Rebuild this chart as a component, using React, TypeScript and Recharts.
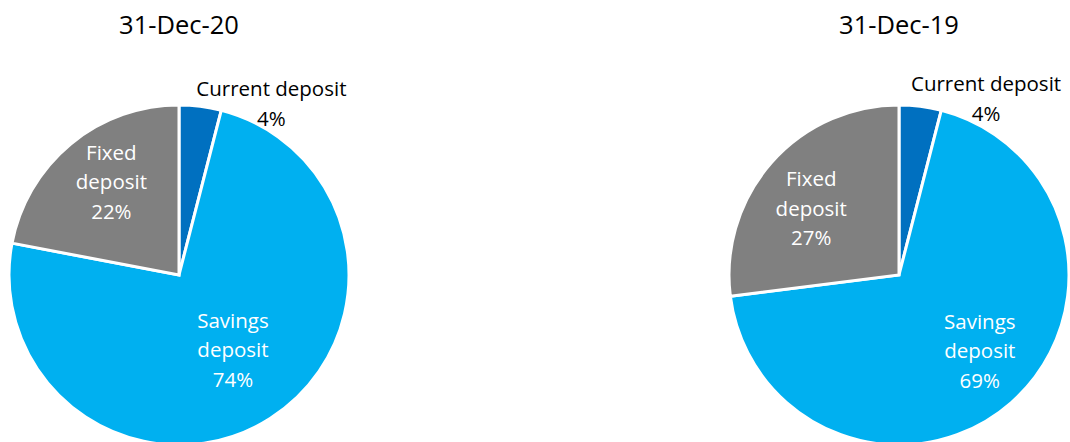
import { PieChart, Pie, Cell } from "recharts"

const categories = ["Current deposit", "Savings deposit", "Fixed deposit"]
const dec20Values = [4, 74, 22]
const dec19Values = [4, 69, 27]
const titles = ["31-Dec-20", "31-Dec-19"]

const colors = ["#0070C0", "#00B0F0", "#808080"]
const textColors = ["#000000", "#ffffff", "#ffffff"]
const FONT = "'Open Sans', sans-serif"
const RADIAN = Math.PI / 180

// label placement per slice: radius factor and angle shift from the slice middle
const layout20 = [
  { rf: 1.15, da: -21 },
  { rf: 0.54, da: 3.6 },
  { rf: 0.68, da: -3.8 },
]
const layout19 = [
  { rf: 1.16, da: -19 },
  { rf: 0.65, da: 5.6 },
  { rf: 0.65, da: 4 },
]

const splitLabel = (name: string, value: number, index: number) => {
  if (index === 0) return [name, `${value}%`]
  const [first, second] = name.split(" ")
  return [first, second, `${value}%`]
}

const makeLabel = (pos: { rf: number; da: number }[]) => (props: any) => {
  const { cx, cy, midAngle, outerRadius, index, value, name } = props
  const p = pos[index]
  const a = (midAngle + p.da) * RADIAN
  const r = outerRadius * p.rf
  const x = cx + r * Math.cos(a)
  const y = cy - r * Math.sin(a)
  const lines = splitLabel(name, value, index)
  const lh = index === 0 ? 30 : 29.5
  const y0 = y - ((lines.length - 1) * lh) / 2
  return (
    <text
      x={x}
      y={y0}
      textAnchor="middle"
      dominantBaseline="central"
      fill={textColors[index]}
      fontFamily={FONT}
      fontSize={20.5}
    >
      {lines.map((l, i) => (
        <tspan key={i} x={x} y={y0 + i * lh} dominantBaseline="central">
          {l}
        </tspan>
      ))}
    </text>
  )
}

const toData = (values: number[]) =>
  categories.map((name, i) => ({ name, value: values[i] }))

export default function App() {
  const series = [
    { data: toData(dec20Values), cx: 179, layout: layout20 },
    { data: toData(dec19Values), cx: 899, layout: layout19 },
  ]
  return (
    <div style={{ position: "absolute", left: 0, top: 0, width: 1070, height: 442, background: "#fff", overflow: "hidden" }}>
      <PieChart width={1070} height={442} margin={{ top: 0, right: 0, bottom: 0, left: 0 }}>
        {series.map((s, k) => (
          <Pie
            key={k}
            data={s.data}
            dataKey="value"
            nameKey="name"
            cx={s.cx}
            cy={275}
            outerRadius={170}
            startAngle={90}
            endAngle={-270}
            stroke="#ffffff"
            strokeWidth={3}
            label={makeLabel(s.layout)}
            labelLine={false}
            isAnimationActive={false}
          >
            {s.data.map((d, i) => (
              <Cell key={d.name} fill={colors[i]} />
            ))}
          </Pie>
        ))}
      </PieChart>
      {titles.map((t, k) => (
        <div
          key={t}
          style={{
            position: "absolute",
            left: (k === 0 ? 179 : 899) - 100,
            top: 9,
            width: 200,
            textAlign: "center",
            fontFamily: FONT,
            fontSize: 25.5,
            color: "#000",
            lineHeight: "30px",
          }}
        >
          {t}
        </div>
      ))}
    </div>
  )
}
